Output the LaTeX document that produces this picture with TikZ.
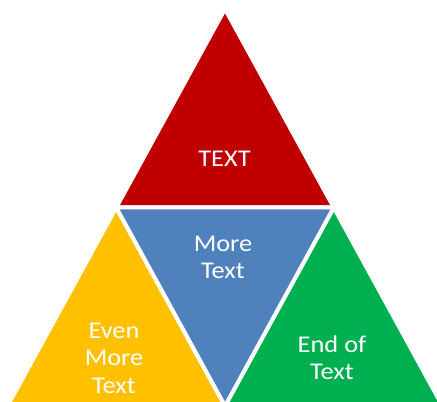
\documentclass[tikz,border=0pt]{standalone}
\usepackage{fontspec}
\setmainfont[FakeStretch=1.1]{Carlito}
\definecolor{tred}{HTML}{C00000}
\definecolor{tblue}{HTML}{4F81BD}
\definecolor{tyellow}{HTML}{FFC000}
\definecolor{tgreen}{HTML}{00B050}
\begin{document}
\begin{tikzpicture}[x=0.75pt,y=-0.75pt,
  tri/.style={draw=white,line width=3pt,line join=miter},
  lab/.style={text=white,font=\fontsize{18}{20.6}\selectfont,align=center,inner sep=0pt}]
\useasboundingbox (0,0) rectangle (437,402);
\fill[white] (0,0) rectangle (437,402);
\begin{scope}
\clip (0,0) rectangle (437,402);
\coordinate (A) at (225,9);
\coordinate (B) at (7.5,406);
\coordinate (C) at (442.5,406);
\coordinate (AB) at (116.25,207.5);
\coordinate (AC) at (333.75,207.5);
\coordinate (BC) at (225,406);
\filldraw[tri,fill=tred] (A) -- (AB) -- (AC) -- cycle;
\filldraw[tri,fill=tyellow] (AB) -- (B) -- (BC) -- cycle;
\filldraw[tri,fill=tgreen] (AC) -- (BC) -- (C) -- cycle;
\filldraw[tri,fill=tblue] (AB) -- (AC) -- (BC) -- cycle;
\end{scope}
\node[lab] (t1) at (224.5,159) {TEXT};
\node[lab] (t2) at (223,257.5) {More\\Text};
\node[lab] (t3) at (114,358) {Even\\More\\Text};
\node[lab] (t4) at (332,357.5) {End of\\Text};
\end{tikzpicture}
\end{document}
